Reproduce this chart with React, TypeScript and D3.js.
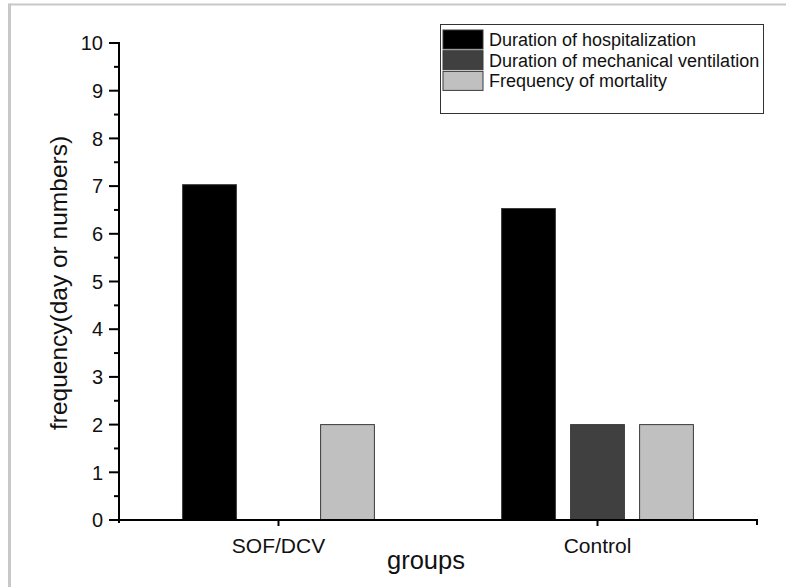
import React from "react";
import * as d3 from "d3";

const categories = ["SOF/DCV", "Control"];
const seriesNames = [
  "Duration of hospitalization",
  "Duration of mechanical ventilation",
  "Frequency of mortality",
];
const hospitalization = [7.03, 6.53];
const ventilation = [0, 2];
const mortality = [2, 2];
const seriesColors = ["#000000", "#404040", "#c0c0c0"];
const yTicks = [0, 1, 2, 3, 4, 5, 6, 7, 8, 9, 10];
const yMinorTicks = [0.5, 1.5, 2.5, 3.5, 4.5, 5.5, 6.5, 7.5, 8.5, 9.5];

const W = 786;
const H = 587;
const FONT = "'Liberation Sans', Arial, sans-serif";

export default function App() {
  const seriesValues = [hospitalization, ventilation, mortality];
  const x = d3.scaleBand<string>().domain(categories).range([119, 757]).padding(0);
  const sub = d3
    .scaleBand<string>()
    .domain(seriesNames)
    .range([-103.5, 103.5])
    .paddingInner(0.22)
    .paddingOuter(0.11);
  const y = d3.scaleLinear().domain([0, 10]).range([520, 43]);
  const x0 = 119;
  const x1 = 757;

  return (
    <svg
      width={W}
      height={H}
      style={{ position: "absolute", left: 0, top: 0, background: "#fff" }}
    >
      <rect x={0} y={0} width={W} height={H} fill="#fff" />
      {/* outer frame */}
      <line x1={9.5} y1={4.5} x2={W} y2={4.5} stroke="#c8c8c8" strokeWidth={2} />
      <line x1={9.5} y1={3.5} x2={9.5} y2={H} stroke="#c8c8c8" strokeWidth={3} />

      {/* bars */}
      {categories.map((c, ci) => {
        const cx = (x(c) as number) + x.bandwidth() / 2;
        return seriesNames.map((s, si) => {
          const v = seriesValues[si][ci];
          if (v <= 0) return null;
          const bx = cx + (sub(s) as number);
          return (
            <rect
              key={c + s}
              x={bx}
              y={y(v)}
              width={sub.bandwidth()}
              height={y(0) - y(v)}
              fill={seriesColors[si]}
              stroke="#3a3a3a"
              strokeWidth={1}
            />
          );
        });
      })}

      {/* y axis */}
      <line x1={x0} y1={y(10) - 1} x2={x0} y2={y(0) + 3} stroke="#000" strokeWidth={2} />
      {yTicks.map((t) => (
        <g key={"t" + t}>
          <line x1={x0 - 10} x2={x0} y1={y(t)} y2={y(t)} stroke="#000" strokeWidth={2} />
          <text
            x={103}
            y={y(t)}
            dy="0.36em"
            textAnchor="end"
            fontFamily={FONT}
            fontSize={20}
            fill="#111"
          >
            {t}
          </text>
        </g>
      ))}
      {yMinorTicks.map((t) => (
        <line key={"m" + t} x1={x0 - 5} x2={x0} y1={y(t)} y2={y(t)} stroke="#000" strokeWidth={2} />
      ))}

      {/* x axis */}
      <line x1={x0 - 1} y1={y(0)} x2={x1 + 1} y2={y(0)} stroke="#000" strokeWidth={2} />
      <line x1={x1} y1={y(0)} x2={x1} y2={y(0) + 5} stroke="#000" strokeWidth={2} />
      {categories.map((c) => {
        const cx = (x(c) as number) + x.bandwidth() / 2;
        return (
          <g key={"x" + c}>
            <line x1={cx} x2={cx} y1={y(0)} y2={y(0) + 6} stroke="#000" strokeWidth={2} />
            <text
              x={cx}
              y={553}
              textAnchor="middle"
              fontFamily={FONT}
              fontSize={21}
              fill="#111"
            >
              {c}
            </text>
          </g>
        );
      })}

      {/* axis titles */}
      <text x={426} y={569} textAnchor="middle" fontFamily={FONT} fontSize={25.5} fill="#111">
        groups
      </text>
      <text
        transform={`translate(67,283) rotate(-90)`}
        textAnchor="middle"
        fontFamily={FONT}
        fontSize={24.5}
        fill="#111"
      >
        frequency(day or numbers)
      </text>

      {/* legend */}
      <rect x={440.5} y={24.5} width={323} height={89} fill="#fff" stroke="#333" strokeWidth={1} />
      {seriesNames.map((s, i) => (
        <g key={"l" + s}>
          <rect
            x={443}
            y={30 + i * 20.7}
            width={40}
            height={19}
            fill={seriesColors[i]}
            stroke="#3a3a3a"
            strokeWidth={1}
          />
          <text x={489} y={46 + i * 20.6} fontFamily={FONT} fontSize={18} fill="#111">
            {s}
          </text>
        </g>
      ))}
    </svg>
  );
}
